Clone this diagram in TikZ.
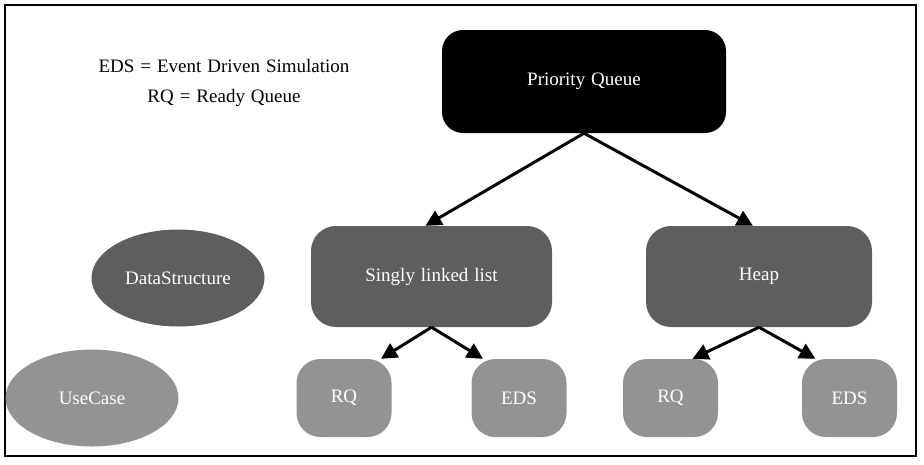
\documentclass[tikz,border=0pt]{standalone}
\usepackage{fontspec}
\setmainfont{Liberation Serif}[WordSpace=1.25]
\usetikzlibrary{arrows.meta,calc,shapes.geometric}
\definecolor{darkbox}{HTML}{5E5E5E}
\definecolor{lightbox}{HTML}{939393}
\begin{document}
\begin{tikzpicture}[x=1pt,y=-1pt,
  every node/.style={font=\fontsize{19}{22}\selectfont, text=white, inner sep=0pt},
  pqbox/.style={rectangle, rounded corners=21pt, fill=black, minimum width=284pt, minimum height=103pt},
  midbox/.style={rectangle, rounded corners=25pt, fill=darkbox, minimum height=101pt},
  leafbox/.style={rectangle, rounded corners=24pt, fill=lightbox, minimum width=95pt, minimum height=78pt},
  legend/.style={ellipse, minimum width=173pt, minimum height=97pt},
  conn/.style={line width=3pt, -{Triangle[length=16pt,width=16pt]}},
  note/.style={text=black}]
\useasboundingbox (0,0) rectangle (924,464);
\draw[line width=1.3pt] (5,5) rectangle (916,456);
\node[note] (n1) at (224,66) {EDS = Event Driven Simulation};
\node[note] (n2) at (224,98) {RQ = Ready Queue};
\node[pqbox] (pq) at (584,81.5) {Priority Queue};
\node[midbox, minimum width=241pt] (sll) at (431.5,276.5) {Singly linked list};
\node[midbox, minimum width=226pt] (heap) at (759,276.5) {Heap};
\node[leafbox] (rq1) at (344,398) {RQ};
\node[leafbox] (eds1) at (519,398) {EDS};
\node[leafbox] (rq2) at (670.5,398) {RQ};
\node[leafbox] (eds2) at (849.5,398) {EDS};
\node[legend, fill=darkbox] (ds) at (178,278) {DataStructure};
\node[legend, fill=lightbox] (uc) at (92,398) {UseCase};
\draw[conn] (pq.south) -- ($(sll.north)+(-6,0)$);
\draw[conn] (pq.south) -- ($(heap.north)+(-6,0)$);
\draw[conn] (sll.south) -- ($(rq1.north)+(37,0)$);
\draw[conn] (sll.south) -- ($(eds1.north)+(-36,0)$);
\draw[conn] (heap.south) -- ($(rq2.north)+(22,0)$);
\draw[conn] (heap.south) -- ($(eds2.north)+(-34,0)$);
\end{tikzpicture}
\end{document}
